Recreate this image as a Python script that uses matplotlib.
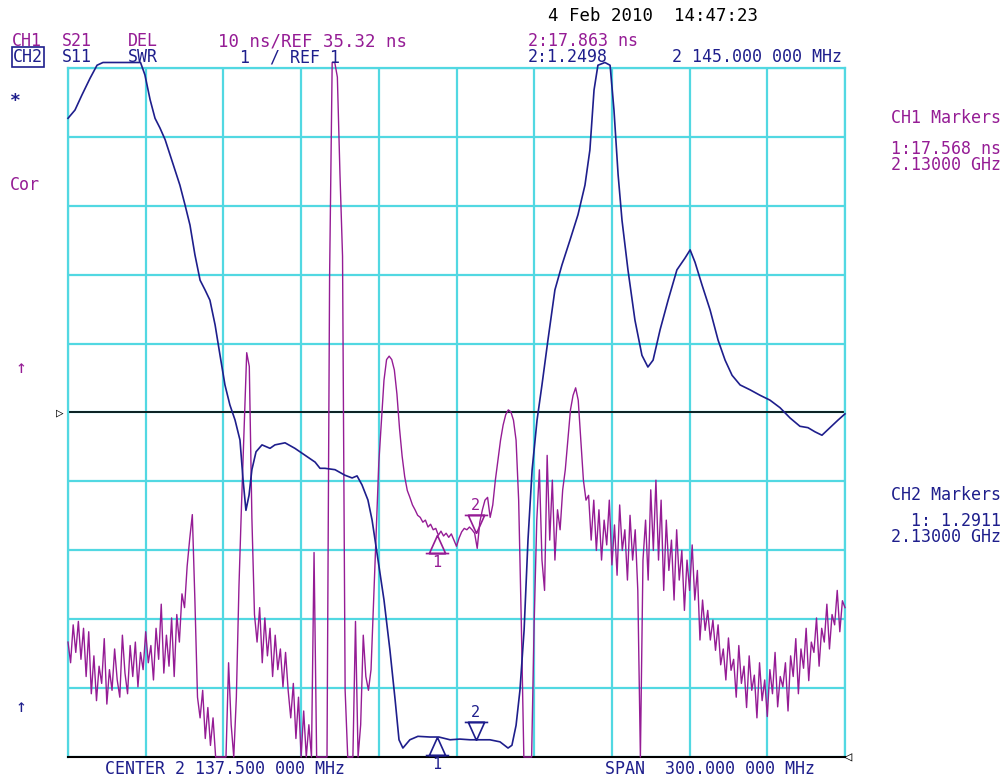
import numpy as np
import matplotlib
matplotlib.use("Agg")
import matplotlib.pyplot as plt
from matplotlib.path import Path

# sweep: centre 2137.5 MHz, span 300 MHz
f_start = 1987.5
f_stop = 2287.5

# CH1 S21 group delay (ns), one reading per MHz across the sweep
ch1_delay = [
    2.0, -1.0, 4.5, 0.5, 5.0, -0.5, 4.0, -3.0, 3.5, -5.5,
    0.0, -6.5, -1.5, -4.0, 2.5, -7.0, -2.0, -5.0, 1.0, -3.5,
    -6.0, 3.0, -2.5, -5.5, 1.5, -3.0, 2.0, -4.5, 0.5, -2.0,
    3.5, -1.0, 1.5, -3.5, 4.0, -0.5, 7.5, -2.5, 3.0, -1.5,
    5.5, -3.0, 6.0, 2.0, 9.0, 7.0, 13.0, 17.0, 20.5, 8.0,
    -6.0, -9.0, -5.0, -12.0, -7.5, -13.0, -9.0, -15, -15, -15,
    -15, -15, -1.0, -10, -15, -6.0, 10.0, 22.0, 33.0, 44.0,
    42.0, 20.0, 6.0, 2.0, 7.0, -1.0, 5.5, 0.0, 4.0, -3.0,
    3.0, -2.0, 1.0, -4.5, 0.5, -5.0, -9.0, -4.0, -12.0, -6.0,
    -15, -8.0, -15, -10, -15, 15.0, -15, -15, -15, -15,
    -15, 55.0, 86.5, 86.5, 84.0, 70.0, 58.0, -5.0, -15, -15,
    -15, 5.0, -15, -10, 3.0, -3.0, -5.0, -2.0, 8.0, 18.0,
    28.0, 34.0, 40.0, 43.0, 43.5, 43.0, 41.5, 38.0, 33.0, 29.0,
    26.0, 24.0, 23.0, 21.9, 21.2, 20.4, 20.1, 19.4, 19.7, 18.7,
    19.1, 18.3, 18.5, 17.5, 18.1, 17.4, 17.8, 17.2, 17.7, 16.8,
    15.9, 17.1, 18.0, 18.5, 18.3, 18.7, 18.3, 17.8, 15.6, 19.4,
    21.2, 22.6, 23.0, 20.1, 21.9, 25.5, 28.4, 31.3, 33.5, 35.0,
    35.7, 35.4, 34.2, 31.3, 22.6, 5.2, -15, -15, -15, -15,
    5.2, 19.7, 27.0, 13.9, 9.5, 29.1, 16.8, 25.5, 13.9, 21.2,
    18.3, 24.1, 27.0, 31.3, 35.7, 37.8, 38.9, 37.1, 31.3, 25.5,
    22.6, 23.3, 16.8, 22.6, 15.3, 21.2, 13.9, 19.7, 16.1, 22.6,
    13.2, 19.0, 11.7, 21.9, 15.3, 18.3, 11.0, 20.4, 13.9, 18.3,
    9.5, -15, 13.9, 19.7, 11.0, 24.1, 15.3, 25.5, 13.9, 22.6,
    9.5, 19.7, 12.4, 16.8, 8.1, 18.3, 11.0, 15.3, 6.6, 13.9,
    9.5, 16.1, 8.1, 12.4, 2.3, 8.1, 3.7, 6.6, 2.3, 5.2,
    0.8, 4.5, -1.3, 1.0, -3.5, 2.6, -2.1, -0.5, -6.0, 1.5,
    -4.0, -1.5, -7.5, 0.0, -5.0, -2.8, -9.0, -1.0, -6.5, -3.5,
    -8.8, -2.0, -5.5, 0.5, -7.4, -3.0, -4.5, -1.0, -8.0, 0.0,
    -3.0, 2.5, -5.5, 1.0, -1.8, 4.0, -3.6, 2.0, 0.5, 5.5,
    -1.5, 4.0, 2.0, 7.5, 1.0, 6.0, 4.5, 9.5, 3.5, 8.0, 7.0,
]

# CH2 S11 SWR trace (MHz, SWR)
ch2_freq = [
    1987.5, 1990.2, 1992.9, 1996.0, 1998.7, 2001.0, 2005.0, 2010.0, 2015.5,
    2017.2, 2019.2, 2021.1, 2023.0, 2025.0, 2026.9, 2028.8, 2030.7, 2032.7,
    2034.6, 2036.5, 2038.5, 2040.4, 2042.3, 2044.3, 2046.2, 2048.1, 2050.0,
    2052.0, 2053.9, 2055.1, 2056.2, 2057.4, 2058.5, 2060.1, 2062.4, 2065.5,
    2067.4, 2071.3, 2075.1, 2079.0, 2082.9, 2084.8, 2086.7, 2090.6, 2094.4,
    2097.2, 2099.1, 2101.0, 2103.3, 2104.9, 2107.2, 2109.5, 2111.8, 2113.8,
    2115.3, 2116.8, 2119.5, 2122.6, 2127.3, 2130.7, 2135.0, 2138.8, 2142.7,
    2145.0, 2150.4, 2154.3, 2157.4, 2158.9, 2160.5, 2162.0, 2163.6, 2165.1,
    2166.7, 2168.6, 2170.5, 2172.8, 2175.5, 2178.2, 2181.3, 2184.4, 2187.1,
    2189.0, 2190.6, 2192.1, 2194.8, 2196.8, 2198.3, 2199.9, 2201.4, 2203.7,
    2206.4, 2209.1, 2211.4, 2213.4, 2216.1, 2219.2, 2222.6, 2225.7, 2227.7,
    2229.6, 2232.3, 2235.4, 2238.5, 2241.2, 2243.9, 2247.0, 2250.8, 2254.7,
    2258.5, 2262.4, 2266.3, 2270.1, 2273.2, 2275.9, 2278.6, 2281.7, 2284.8,
    2287.5,
]
ch2_swr = [
    10.27, 10.39, 10.61, 10.85, 11.04, 11.09, 11.08, 11.09, 11.08,
    10.90, 10.54, 10.27, 10.13, 9.96, 9.74, 9.52, 9.30, 9.01,
    8.72, 8.29, 7.92, 7.78, 7.63, 7.27, 6.83, 6.40, 6.11,
    5.89, 5.60, 5.02, 4.58, 4.80, 5.17, 5.43, 5.53, 5.48,
    5.53, 5.56, 5.48, 5.38, 5.28, 5.19, 5.19, 5.17, 5.09,
    5.05, 5.08, 4.95, 4.73, 4.44, 3.86, 3.28, 2.55, 1.83,
    1.25, 1.13, 1.25, 1.30, 1.29, 1.29, 1.25, 1.26, 1.25,
    1.25, 1.25, 1.22, 1.13, 1.17, 1.46, 1.97, 2.84, 4.15,
    5.17, 5.89, 6.40, 7.05, 7.78, 8.14, 8.50, 8.87, 9.30,
    9.81, 10.68, 11.04, 11.09, 11.04, 10.39, 9.45, 8.79, 8.07,
    7.34, 6.83, 6.66, 6.76, 7.20, 7.63, 8.07, 8.24, 8.36,
    8.18, 7.85, 7.49, 7.05, 6.76, 6.54, 6.40, 6.33, 6.25,
    6.18, 6.07, 5.92, 5.80, 5.78, 5.72, 5.67, 5.78, 5.89,
    5.98,
]

# marker readouts
mk_freq = [2130.0, 2145.0]
mk_delay = [17.568, 17.863]
mk_swr = [1.2911, 1.2498]

# screen scales
ch1_ref = 35.32
ch1_per_div = 10.0
ch2_ref = 1.0
ch2_per_div = 1.0

PURPLE = "#951c95"
BLUE = "#1e1e8c"
CYAN = "#52d8e2"
FONT = "DejaVu Sans Mono"

W, H = 1007, 780


def fx(px):
    return px / W


def fy(py):
    return 1 - py / H


fig = plt.figure(figsize=(W / 100, H / 100), dpi=100)
ax = fig.add_axes([fx(68), fy(757), (845 - 68) / W, (757 - 68) / H])

ch1_lo = ch1_ref - 5 * ch1_per_div
ch1_hi = ch1_ref + 5 * ch1_per_div
ax.set_xlim(f_start, f_stop)
ax.set_ylim(ch1_lo, ch1_hi)
ax.set_xticks(np.linspace(f_start, f_stop, 11))
ax.set_yticks(np.linspace(ch1_lo, ch1_hi, 11))
ax.tick_params(length=0, labelbottom=False, labelleft=False)
ax.set_axisbelow(True)
ax.grid(True, color=CYAN, linewidth=1.6)
for side in ("top", "left", "right"):
    ax.spines[side].set_color(CYAN)
    ax.spines[side].set_linewidth(1.6)
ax.spines["bottom"].set_color("black")
ax.spines["bottom"].set_linewidth(1.5)
ax.axhline(ch1_ref, color="black", linewidth=1.2, zorder=1)

ax2 = ax.twinx()
ax2.set_ylim(ch2_ref, ch2_ref + 10 * ch2_per_div)
ax2.axis("off")

# the analyser pins off-screen readings just past the graticule
delay = np.clip(np.array(ch1_delay), ch1_lo, ch1_hi + 0.08 * ch1_per_div)
freq1 = np.linspace(f_start, f_stop, len(ch1_delay))
ax.plot(freq1, delay, color=PURPLE, linewidth=1.0, clip_on=False, zorder=3)

swr = np.clip(np.array(ch2_swr), ch2_ref, ch2_ref + 10.08 * ch2_per_div)
ax2.plot(ch2_freq, swr, color=BLUE, linewidth=1.2, clip_on=False, zorder=3)

# marker symbols: apex on the trace
up = Path([(0, 0), (-0.45, -1), (0.45, -1), (0, 0), (-0.65, -1), (0.65, -1)],
          [Path.MOVETO, Path.LINETO, Path.LINETO, Path.LINETO, Path.MOVETO, Path.LINETO])
down = Path([(0, 0), (-0.45, 1), (0.45, 1), (0, 0), (-0.65, 1), (0.65, 1)],
            [Path.MOVETO, Path.LINETO, Path.LINETO, Path.LINETO, Path.MOVETO, Path.LINETO])

for a, vals, col in ((ax, mk_delay, PURPLE), (ax2, mk_swr, BLUE)):
    a.plot([mk_freq[0]], [vals[0]], marker=up, markersize=26, color=col,
           markerfacecolor="none", markeredgewidth=1.2, linestyle="none",
           clip_on=False, zorder=5)
    a.plot([mk_freq[1]], [vals[1]], marker=down, markersize=26, color=col,
           markerfacecolor="none", markeredgewidth=1.2, linestyle="none",
           clip_on=False, zorder=5)
    a.annotate("1", (mk_freq[0], vals[0]), xytext=(0, -20), textcoords="offset points",
               ha="center", va="center", color=col, fontsize=11, family=FONT,
               annotation_clip=False)
    a.annotate("2", (mk_freq[1], vals[1]), xytext=(0, 20), textcoords="offset points",
               ha="center", va="center", color=col, fontsize=11, family=FONT,
               annotation_clip=False)


def label(px, py, s, color, size=12, ha="left", **kw):
    fig.text(fx(px), fy(py), s, color=color, fontsize=size, family=FONT,
             va="center", ha=ha, **kw)


label(548, 16, "4 Feb 2010  14:47:23", "black", size=12.5)

label(12, 41, "CH1", PURPLE)
label(62, 41, "S21", PURPLE)
label(128, 41, "DEL", PURPLE)
label(218, 41, "10 ns/REF 35.32 ns", PURPLE, size=12.5)
label(528, 41, "2:17.863 ns", PURPLE)

label(13, 57, "CH2", BLUE,
      bbox=dict(boxstyle="square,pad=0.05", facecolor="none", edgecolor=BLUE, linewidth=1.2))
label(62, 57, "S11", BLUE)
label(128, 57, "SWR", BLUE)
label(240, 57, "1  / REF 1", BLUE)
label(528, 57, "2:1.2498", BLUE)
label(672, 57, "2 145.000 000 MHz", BLUE)

label(10, 101, "*", BLUE, size=13, fontweight="bold")
label(10, 185, "Cor", PURPLE)
label(16, 368, "↑", PURPLE, size=13)
label(16, 707, "↑", BLUE, size=13)

label(1001, 118, "CH1 Markers", PURPLE, ha="right")
label(1001, 157, "1:17.568 ns\n2.13000 GHz", PURPLE, ha="right",
      multialignment="right", linespacing=0.85)
label(1001, 495, "CH2 Markers", BLUE, ha="right")
label(1001, 529, "1: 1.2911\n2.13000 GHz", BLUE, ha="right",
      multialignment="right", linespacing=0.85)

label(105, 769, "CENTER 2 137.500 000 MHz", BLUE)
label(605, 769, "SPAN  300.000 000 MHz", BLUE)

label(56, 413, "▷", "black", size=9)
label(844, 757, "◁", "black", size=10)

fig.savefig("out.png", dpi=100, facecolor="white")
